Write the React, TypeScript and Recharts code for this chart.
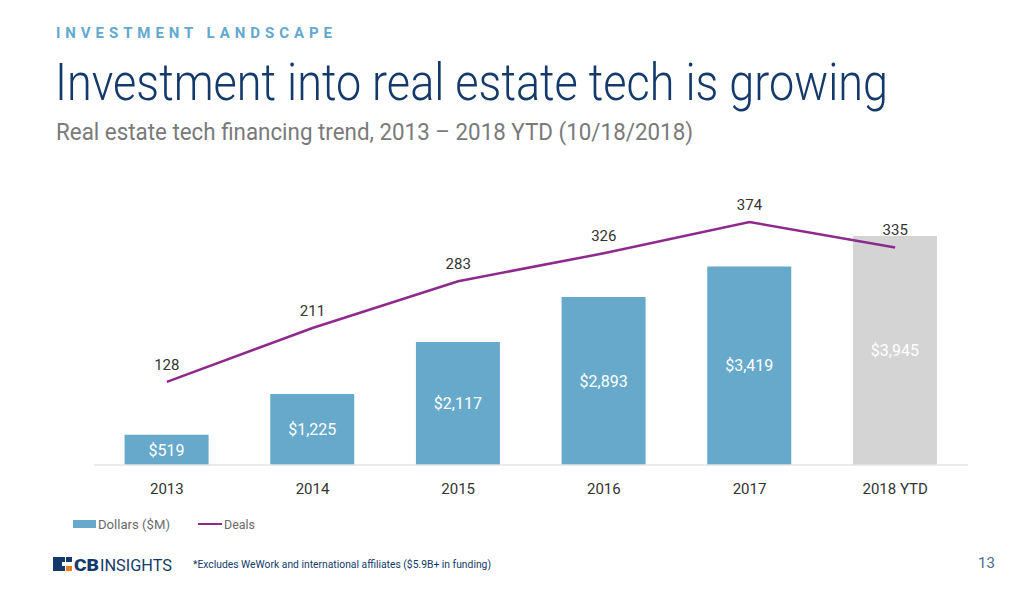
import React from 'react';
import { ComposedChart, Bar, Line, XAxis, YAxis, Cell, LabelList } from 'recharts';

const categories = ['2013', '2014', '2015', '2016', '2017', '2018 YTD'];
const dollars = [519, 1225, 2117, 2893, 3419, 3945];
const deals = [128, 211, 283, 326, 374, 335];

const BAR_BLUE = '#67a9cb';
const BAR_GRAY = '#d4d4d4';
const LINE_PURPLE = '#8e2a8c';
const NAVY = '#143a6b';

const data = categories.map((year, i) => ({
  year,
  dollars: dollars[i],
  deals: deals[i],
}));

const font = 'Roboto, "Noto Sans", sans-serif';

export default function App() {
  return (
    <div
      style={{
        position: 'fixed',
        left: 0,
        top: 0,
        width: 1024,
        height: 595,
        background: '#fff',
        fontFamily: font,
        overflow: 'hidden',
      }}
    >
      {/* header */}
      <svg width={1024} height={160} style={{ position: 'absolute', left: 0, top: 0 }}>
        <text
          x={56}
          y={38}
          fontFamily={font}
          fontWeight={700}
          fontSize={15}
          fill="#63a8cf"
          textLength={276}
          lengthAdjust="spacing"
        >
          INVESTMENT LANDSCAPE
        </text>
        <text
          x={55}
          y={100}
          fontFamily={font}
          fontWeight={300}
          fontSize={52}
          fill={NAVY}
          textLength={833}
          lengthAdjust="spacingAndGlyphs"
        >
          Investment into real estate tech is growing
        </text>
        <text
          x={56}
          y={140}
          fontFamily={font}
          fontWeight={400}
          fontSize={24}
          fill="#7a7a7a"
          textLength={637}
          lengthAdjust="spacingAndGlyphs"
        >
          Real estate tech financing trend, 2013 – 2018 YTD (10/18/2018)
        </text>
      </svg>

      <div style={{ position: 'absolute', left: 0, top: 0 }}>
        <ComposedChart
          width={1024}
          height={595}
          data={data}
          margin={{ top: 200, right: 56, left: 94, bottom: 100 }}
          barCategoryGap="21%"
        >
          <XAxis
            dataKey="year"
            height={30}
            tickLine={false}
            tickMargin={12}
            axisLine={{ stroke: '#e4e4e4', strokeWidth: 1.5 }}
            tick={{ fill: '#333', fontSize: 15, fontFamily: font }}
          />
          <YAxis yAxisId="left" hide domain={[0, 4565]} />
          <YAxis yAxisId="right" orientation="right" hide domain={[0, 408]} />
          <Bar yAxisId="left" dataKey="dollars" isAnimationActive={false}>
            {data.map((d, i) => (
              <Cell key={d.year} fill={i === data.length - 1 ? BAR_GRAY : BAR_BLUE} />
            ))}
            <LabelList
              dataKey="dollars"
              position="center"
              fill="#fff"
              fontSize={16}
              fontFamily={font}
              formatter={(v: number) => '$' + v.toLocaleString('en-US')}
            />
          </Bar>
          <Line
            yAxisId="right"
            dataKey="deals"
            type="linear"
            stroke={LINE_PURPLE}
            strokeWidth={2.5}
            dot={false}
            activeDot={false}
            isAnimationActive={false}
          >
            <LabelList
              dataKey="deals"
              position="top"
              offset={12}
              fill="#333"
              fontSize={15}
              fontFamily={font}
            />
          </Line>
        </ComposedChart>
      </div>

      {/* legend */}
      <svg width={260} height={20} style={{ position: 'absolute', left: 73, top: 514 }}>
        <rect x={0} y={6} width={23} height={8} fill={BAR_BLUE} />
        <text x={25} y={14.5} fontFamily={font} fontSize={13} fill="#6b6b6b" textLength={72} lengthAdjust="spacingAndGlyphs">
          Dollars ($M)
        </text>
        <line x1={125} y1={10} x2={149} y2={10} stroke={LINE_PURPLE} strokeWidth={2} />
        <text x={151} y={14.5} fontFamily={font} fontSize={13} fill="#6b6b6b" textLength={31} lengthAdjust="spacingAndGlyphs">
          Deals
        </text>
      </svg>

      {/* footer */}
      <svg width={460} height={24} style={{ position: 'absolute', left: 52, top: 552 }}>
        <path d="M1 5 h12 v5 h-3 v4 h3 v5 h-12 z" fill={NAVY} />
        <rect x={14} y={5} width={6} height={5} fill={NAVY} />
        <rect x={14} y={14} width={6} height={5} fill="#f07c22" />
        <text x={22} y={19} fontFamily={font} fontWeight={900} fontSize={17} fill={NAVY} textLength={25} lengthAdjust="spacingAndGlyphs">
          CB
        </text>
        <text x={48} y={19} fontFamily={font} fontWeight={400} fontSize={17} fill={NAVY} textLength={72} lengthAdjust="spacingAndGlyphs">
          INSIGHTS
        </text>
        <text x={141} y={16} fontFamily={font} fontSize={11} fill={NAVY} textLength={298} lengthAdjust="spacingAndGlyphs">
          *Excludes WeWork and international affiliates ($5.9B+ in funding)
        </text>
      </svg>
      <div
        style={{
          position: 'absolute',
          left: 978,
          top: 554,
          fontSize: 15,
          color: '#4b6a8f',
        }}
      >
        13
      </div>
    </div>
  );
}
